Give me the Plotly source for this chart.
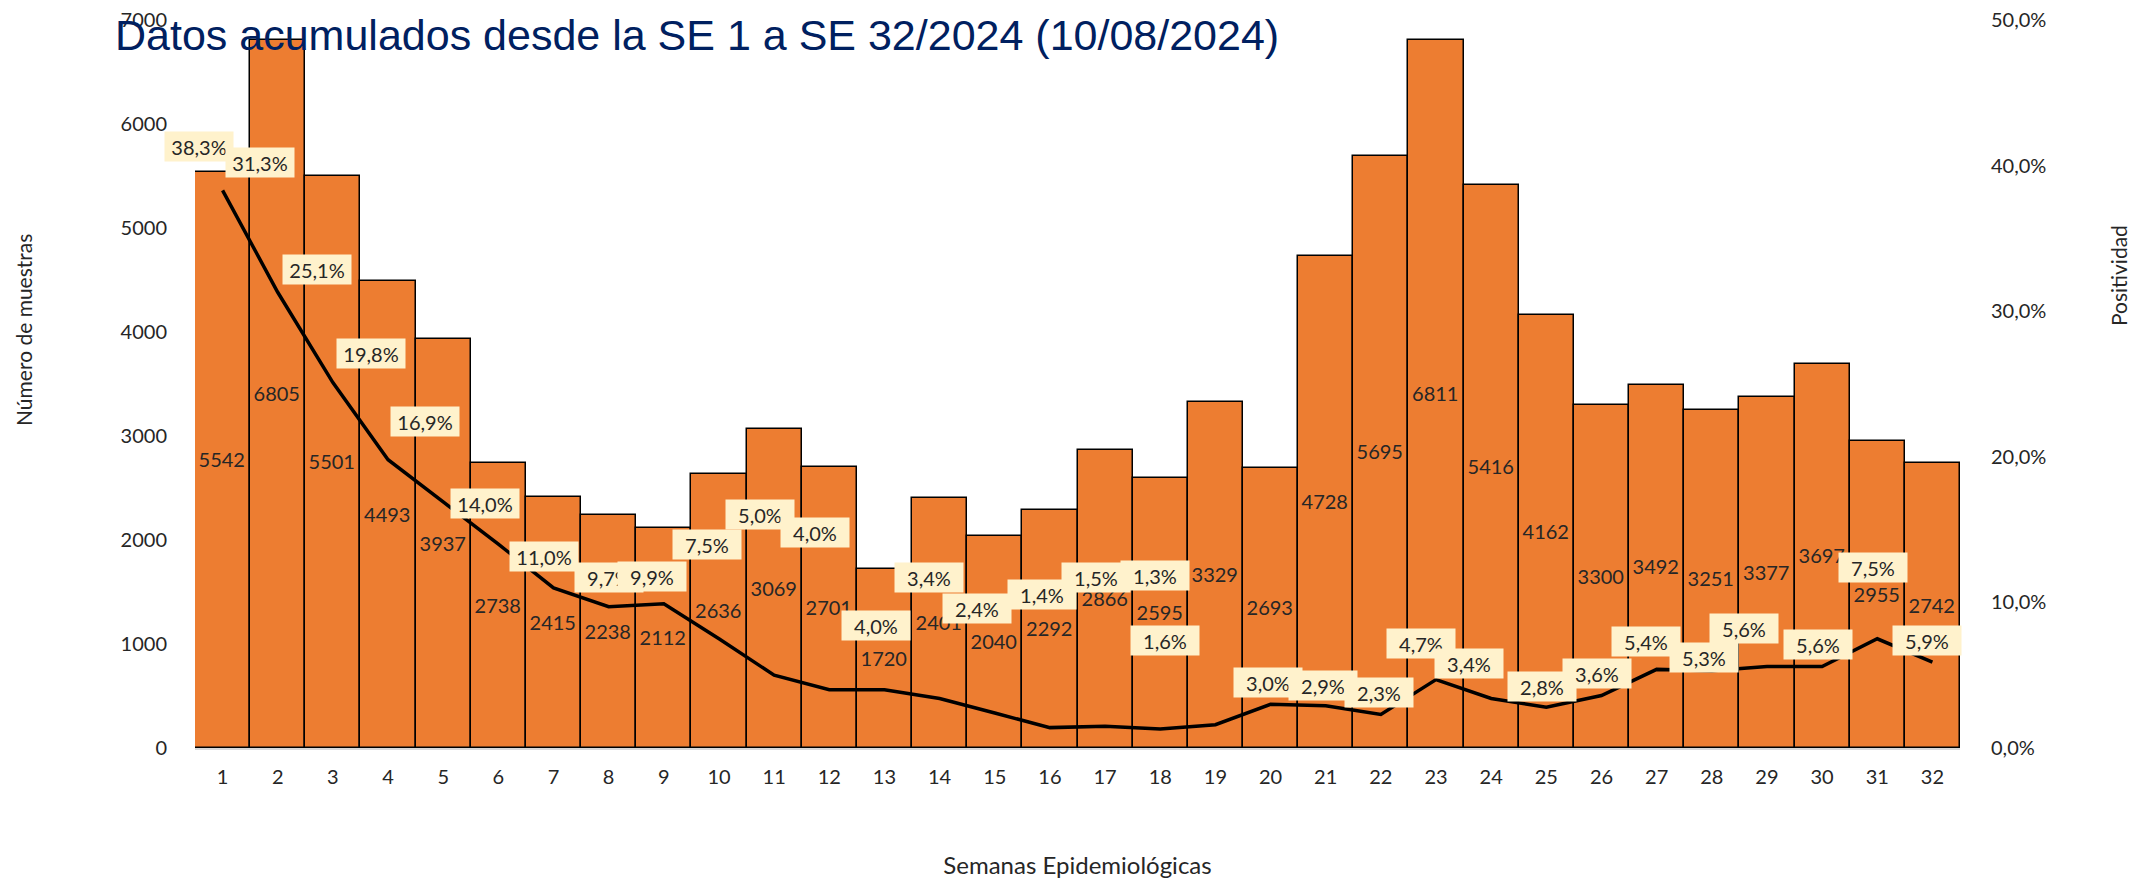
import plotly.graph_objects as go

# ---- data ----
semanas = list(range(1, 33))
muestras = [5542, 6805, 5501, 4493, 3937, 2738, 2415, 2238, 2112, 2636, 3069, 2701,
            1720, 2401, 2040, 2292, 2866, 2595, 3329, 2693, 4728, 5695, 6811, 5416,
            4162, 3300, 3492, 3251, 3377, 3697, 2955, 2742]
positividad = [38.3, 31.3, 25.1, 19.8, 16.9, 14.0, 11.0, 9.7, 9.9, 7.5, 5.0, 4.0,
               4.0, 3.4, 2.4, 1.4, 1.5, 1.3, 1.6, 3.0, 2.9, 2.3, 4.7, 3.4,
               2.8, 3.6, 5.4, 5.3, 5.6, 5.6, 7.5, 5.9]
y_ticks_left = [0, 1000, 2000, 3000, 4000, 5000, 6000, 7000]
y_ticks_right = [0, 0.1, 0.2, 0.3, 0.4, 0.5]

titulo = "Datos acumulados desde la SE 1 a SE 32/2024 (10/08/2024)"
titulo_x = "Semanas Epidemiológicas"
titulo_y = "Número de muestras"
titulo_y2 = "Positividad"

# label placement (pixel offsets from the line point), style only
label_dx = [-24, -18, -16, -17, -18, -13, -10, 0, -12, -12, -14, -14, -8, -11, -18, -8,
            -9, -5, -50, -3, -3, -2, -15, -22, -4, -4, -11, -8, -23, -4, -4, -5]
label_dy = [44, 130, 113, 106, 80, 41, 31, 29, 27, 94, 161, 157, 64, 121, 105, 133,
            149, 154, 84, 22, 20, 22, 36, 35, 21, 22, 28, 13, 38, 22, 71, 22]

FONT = "Lato, 'Open Sans', sans-serif"
TXT = "#262626"

# page has an 8px body margin: plot box in figure coordinates
L, R, T, B = 187, 189, 12, 138
W, H = 2141, 878
PW, PH = W - L - R, H - T - B

fig = go.Figure()
fig.add_trace(go.Bar(
    x=semanas, y=muestras,
    marker=dict(color="#ED7D31", line=dict(color="#000000", width=1.5)),
    text=[str(v) for v in muestras], textposition="inside",
    insidetextanchor="middle", textangle=0,
    textfont=dict(family=FONT, size=20, color=TXT),
    constraintext="none", name="Número de muestras", showlegend=False,
))
fig.add_trace(go.Scatter(
    x=semanas, y=[p / 100 for p in positividad], yaxis="y2", mode="lines",
    line=dict(color="#000000", width=3.5), name="Positividad", showlegend=False,
))

annotations = []
for s, p, dx, dy in zip(semanas, positividad, label_dx, label_dy):
    annotations.append(dict(
        x=s, y=p / 100, xref="x", yref="y2",
        text=f"{p:.1f}".replace(".", ",") + "%",
        showarrow=False, xshift=dx, yshift=dy,
        bgcolor="#FFF2CC", width=68, height=29, borderpad=0,
        font=dict(family=FONT, size=20, color=TXT),
    ))

annotations.append(dict(
    text=titulo_y, xref="paper", yref="paper", x=(15 - L) / PW, y=(H - B - 322) / PH,
    textangle=-90, showarrow=False, font=dict(family=FONT, size=21, color=TXT),
    xanchor="center", yanchor="middle"))
annotations.append(dict(
    text=titulo_y2, xref="paper", yref="paper", x=(2110 - L) / PW, y=(H - B - 268) / PH,
    textangle=-90, showarrow=False, font=dict(family=FONT, size=21, color=TXT),
    xanchor="center", yanchor="middle"))

fig.update_layout(
    width=W, height=H,
    margin=dict(l=L, r=R, t=T, b=B, autoexpand=False),
    paper_bgcolor="white", plot_bgcolor="white",
    separators=", ",
    bargap=0,
    title=dict(text=titulo, x=107 / W, xanchor="left", xref="container",
               y=1 - 27 / H, yanchor="middle", yref="container",
               font=dict(family="'Liberation Sans', Arial, sans-serif", size=43, color="#002060")),
    xaxis=dict(
        tickmode="array", tickvals=semanas, ticktext=[str(s) for s in semanas],
        range=[0.5, 32.5], showgrid=False, zeroline=False, automargin=False,
        showline=True, linecolor="#D9D9D9", linewidth=2,
        ticks="", tickfont=dict(family=FONT, size=20, color=TXT),
        ticklabelstandoff=10,
        title=dict(text=titulo_x, font=dict(family=FONT, size=24, color=TXT), standoff=70),
    ),
    yaxis=dict(
        range=[0, 7000], tickvals=y_ticks_left, showgrid=False, zeroline=False,
        showline=False, ticks="", tickfont=dict(family=FONT, size=20, color=TXT),
        ticklabelstandoff=27, automargin=False, ticklabeloverflow="allow",
    ),
    yaxis2=dict(
        range=[0, 0.5], tickvals=y_ticks_right, tickformat=".1%", overlaying="y",
        side="right", showgrid=False, zeroline=False, showline=False, ticks="",
        tickfont=dict(family=FONT, size=20, color=TXT), ticklabelstandoff=30,
        automargin=False, ticklabeloverflow="allow",
    ),
    annotations=annotations,
)

fig.write_html("out.html")
